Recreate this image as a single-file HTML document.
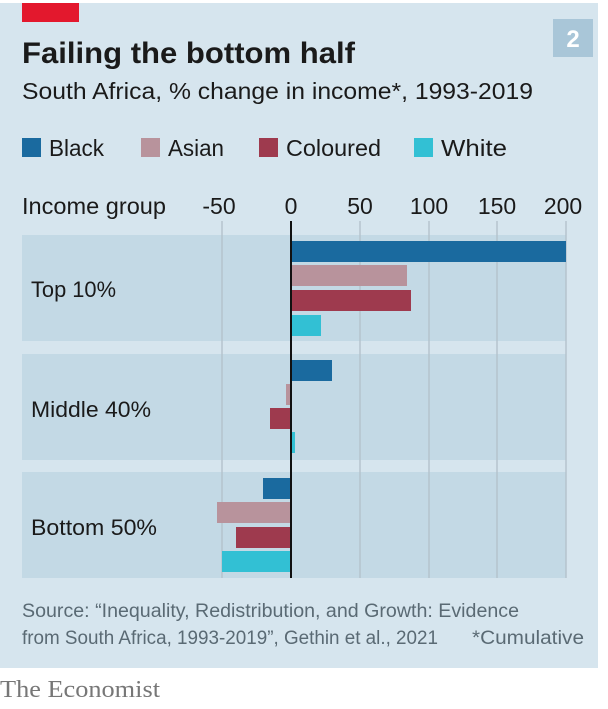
<!DOCTYPE html>
<html><head><meta charset="utf-8"><style>
body{margin:0;width:608px;height:704px;background:#fff;font-family:"Liberation Sans",sans-serif;overflow:hidden}
</style></head><body>
<svg width="608" height="704" xmlns="http://www.w3.org/2000/svg" font-family="Liberation Sans, sans-serif">
<rect x="0" y="3" width="598" height="665" fill="#d6e5ee"/>
<rect x="22" y="3" width="57" height="19" fill="#e3182d"/>
<rect x="553" y="19" width="40" height="38" fill="#a9c6d8"/>
<text x="573" y="47" font-size="24" font-weight="bold" fill="#fff" text-anchor="middle">2</text>
<text x="22" y="63" font-size="30" font-weight="bold" fill="#1a1a1a" textLength="333" lengthAdjust="spacingAndGlyphs">Failing the bottom half</text>
<text x="22" y="99" font-size="23" fill="#1a1a1a" textLength="511" lengthAdjust="spacingAndGlyphs">South Africa, % change in income*, 1993-2019</text>
<g font-size="23" fill="#1a1a1a">
<rect x="22" y="138" width="19" height="19" fill="#1a6a9f"/><text x="49" y="156" textLength="55" lengthAdjust="spacingAndGlyphs">Black</text>
<rect x="141" y="138" width="19" height="19" fill="#b8939c"/><text x="168" y="156" textLength="56" lengthAdjust="spacingAndGlyphs">Asian</text>
<rect x="259" y="138" width="19" height="19" fill="#9e3a4e"/><text x="286" y="156" textLength="95" lengthAdjust="spacingAndGlyphs">Coloured</text>
<rect x="414" y="138" width="19" height="19" fill="#32c0d4"/><text x="441" y="156" textLength="66" lengthAdjust="spacingAndGlyphs">White</text>
<text x="22" y="214" textLength="144" lengthAdjust="spacingAndGlyphs">Income group</text>
<g text-anchor="middle"><text x="219" y="214">-50</text><text x="291" y="214">0</text><text x="360" y="214">50</text><text x="429" y="214">100</text><text x="497" y="214">150</text><text x="563" y="214">200</text></g>
</g>
<rect x="22" y="235" width="544" height="106" fill="#c3d9e5"/>
<rect x="22" y="354" width="544" height="106" fill="#c3d9e5"/>
<rect x="22" y="472" width="544" height="106" fill="#c3d9e5"/>
<g stroke="#b5c4cd" stroke-width="1.5">
<line x1="222" y1="221" x2="222" y2="578"/><line x1="360" y1="221" x2="360" y2="578"/><line x1="429" y1="221" x2="429" y2="578"/><line x1="497" y1="221" x2="497" y2="578"/><line x1="566" y1="221" x2="566" y2="578"/>
</g>
<g font-size="22" fill="#1a1a1a">
<text x="31" y="297" textLength="85" lengthAdjust="spacingAndGlyphs">Top 10%</text><text x="31" y="417" textLength="120" lengthAdjust="spacingAndGlyphs">Middle 40%</text><text x="31" y="535" textLength="126" lengthAdjust="spacingAndGlyphs">Bottom 50%</text>
</g>
<rect x="291" y="241" width="275" height="21" fill="#1a6a9f"/>
<rect x="291" y="265" width="116" height="21" fill="#b8939c"/>
<rect x="291" y="290" width="120" height="21" fill="#9e3a4e"/>
<rect x="291" y="315" width="30" height="21" fill="#32c0d4"/>
<rect x="291" y="360" width="41" height="21" fill="#1a6a9f"/>
<rect x="286" y="384" width="5" height="21" fill="#b8939c"/>
<rect x="270" y="408" width="21" height="21" fill="#9e3a4e"/>
<rect x="291" y="432" width="4" height="21" fill="#32c0d4"/>
<rect x="263" y="478" width="28" height="21" fill="#1a6a9f"/>
<rect x="217" y="502" width="74" height="21" fill="#b8939c"/>
<rect x="236" y="527" width="55" height="21" fill="#9e3a4e"/>
<rect x="222" y="551" width="69" height="21" fill="#32c0d4"/>
<line x1="291" y1="221" x2="291" y2="578" stroke="#111" stroke-width="2"/>
<g font-size="19" fill="#5a6a74">
<text x="22" y="617" textLength="497" lengthAdjust="spacingAndGlyphs">Source: “Inequality, Redistribution, and Growth: Evidence</text>
<text x="22" y="644" textLength="416" lengthAdjust="spacingAndGlyphs">from South Africa, 1993-2019”, Gethin et al., 2021</text>
<text x="472" y="644" textLength="112" lengthAdjust="spacingAndGlyphs">*Cumulative</text>
</g>
<text x="0" y="697" font-size="24" fill="#777" font-family="Liberation Serif, serif" textLength="160" lengthAdjust="spacingAndGlyphs">The Economist</text>
</svg>
</body></html>
